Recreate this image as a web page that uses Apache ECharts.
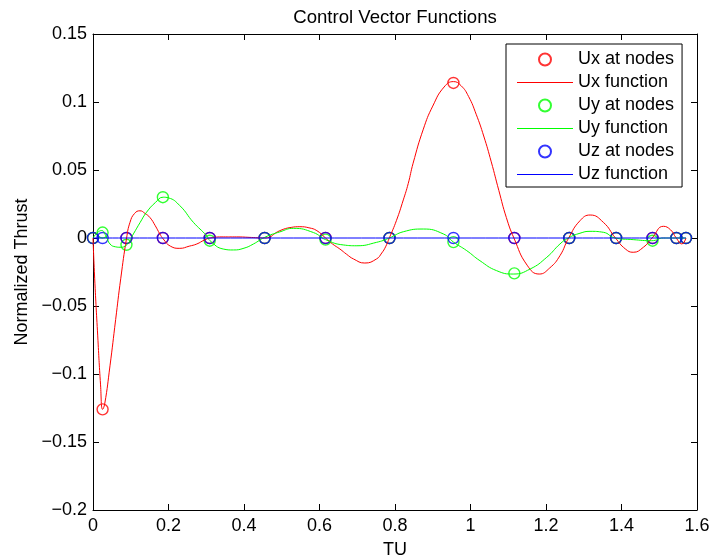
<!DOCTYPE html>
<html>
<head>
<meta charset="utf-8">
<script src="https://cdn.jsdelivr.net/npm/echarts@6/dist/echarts.min.js"></script>
<style>html,body{margin:0;padding:0;background:#fff}#c{width:710px;height:558px}</style>
</head>
<body>
<div id="c"></div>
<script>
// Node times (TU)
var nodeT = [0, 0.0254, 0.0886, 0.1851, 0.3092, 0.4547, 0.6160, 0.7854, 0.9548, 1.1161, 1.2616, 1.3857, 1.4822, 1.5454, 1.5708];
var uxNodes = [0, -0.126, 0, 0, 0, 0, 0, 0, 0.114, 0, 0, 0, 0, 0, 0];
var uyNodes = [0, 0.004, -0.005, 0.030, -0.002, 0, -0.0012, 0, -0.003, -0.026, 0, 0, -0.002, 0, 0];
var uzNodes = [0, 0, 0, 0, 0, 0, 0, 0, 0, 0, 0, 0, 0, 0, 0];

// Function curves
var uxCurveT = [0, 0.0045, 0.0125, 0.02, 0.0254, 0.031, 0.045, 0.06, 0.0734, 0.089, 0.098, 0.11, 0.1245, 0.138, 0.151, 0.165, 0.177, 0.186, 0.205, 0.23, 0.255, 0.275, 0.295, 0.31, 0.345, 0.38, 0.42, 0.455, 0.495, 0.525, 0.548, 0.572, 0.593, 0.616, 0.635, 0.654, 0.672, 0.69, 0.72, 0.751, 0.765, 0.775, 0.785, 0.804, 0.822, 0.835, 0.848, 0.875, 0.9, 0.93, 0.955, 0.975, 0.995, 1.015, 1.035, 1.055, 1.075, 1.095, 1.115, 1.15, 1.182, 1.21, 1.237, 1.26, 1.29, 1.317, 1.352, 1.384, 1.41, 1.431, 1.458, 1.481, 1.511, 1.53, 1.545, 1.56, 1.5708];
var uxCurveV = [0, -0.030, -0.072, -0.108, -0.126, -0.122, -0.094, -0.060, -0.030, 0, 0.0115, 0.018, 0.020, 0.018, 0.015, 0.009, 0.003, -0.0007, -0.006, -0.0076, -0.006, -0.0044, -0.0015, 0, 0.0008, 0.0008, 0.0004, 0, 0.0054, 0.0078, 0.0083, 0.0075, 0.0054, 0, -0.0045, -0.0081, -0.012, -0.0154, -0.0184, -0.0154, -0.011, -0.0065, 0, 0.013, 0.028, 0.040, 0.055, 0.080, 0.097, 0.111, 0.115, 0.112, 0.104, 0.091, 0.075, 0.056, 0.035, 0.015, 0, -0.020, -0.0265, -0.022, -0.013, 0, 0.0127, 0.0169, 0.0115, 0, -0.008, -0.0105, -0.0068, 0, 0.0086, 0.006, 0, -0.0044, 0];
var uyCurveT = [0, 0.012, 0.023, 0.035, 0.045, 0.06, 0.0715, 0.09, 0.107, 0.125, 0.142, 0.165, 0.186, 0.2, 0.23, 0.266, 0.301, 0.31, 0.345, 0.372, 0.4, 0.425, 0.455, 0.495, 0.531, 0.584, 0.616, 0.663, 0.699, 0.751, 0.785, 0.822, 0.875, 0.928, 0.955, 0.99, 1.025, 1.069, 1.113, 1.158, 1.202, 1.237, 1.259, 1.29, 1.3166, 1.352, 1.383, 1.431, 1.48, 1.511, 1.545, 1.5708];
var uyCurveV = [0, 0.004, 0.0055, 0.001, -0.0044, -0.0065, -0.0068, -0.0049, 0.003, 0.0115, 0.019, 0.026, 0.030, 0.0295, 0.0238, 0.0115, 0.0017, -0.002, -0.0081, -0.0088, -0.0075, -0.0044, 0.0005, 0.0045, 0.0071, 0.004, -0.0012, -0.0051, -0.0057, -0.0032, 0, 0.0046, 0.0066, 0.003, -0.003, -0.0093, -0.0167, -0.024, -0.0265, -0.0228, -0.0142, -0.0044, 0, 0.0035, 0.0049, 0.0042, 0, -0.0012, -0.002, 0, 0, 0];
var uzCurveT = [0, 1.5708];
var uzCurveV = [0, 0];

var xTicks = {min: 0, max: 1.6, interval: 0.2};
var yTicks = {min: -0.2, max: 0.15, interval: 0.05};
var legendNames = ['Ux at nodes', 'Ux function', 'Uy at nodes', 'Uy function', 'Uz at nodes', 'Uz function'];

function pairs(t, v) { return t.map(function (x, i) { return [x, v[i]]; }); }

var FONT = 'Liberation Sans';
var chart = echarts.init(document.getElementById('c'), null, {renderer: 'canvas'});

function nodeSeries(name, color, vals) {
  return {
    name: name, type: 'scatter', data: pairs(nodeT, vals),
    symbol: 'circle', symbolSize: 11,
    itemStyle: {color: 'rgba(255,255,255,0)', borderColor: color, borderWidth: 1.4},
    emphasis: {disabled: true}, silent: true
  };
}
function funcSeries(name, color, t, v) {
  return {
    name: name, type: 'line', data: pairs(t, v), smooth: 0.5,
    symbol: 'none', showSymbol: false,
    lineStyle: {color: color, width: 1}, itemStyle: {color: color},
    emphasis: {disabled: true}, silent: true
  };
}
var fmt = function (v) { return String(+v.toFixed(4)).replace('-', '\u2212'); };
var lineIcon = 'path://M0 0H56V1H0Z';

chart.setOption({
  animation: false,
  backgroundColor: '#fff',
  title: {
    text: 'Control Vector Functions', left: 390, top: 3, textAlign: 'center',
    textStyle: {fontFamily: FONT, fontSize: 18.6, fontWeight: 'normal', color: '#000'}
  },
  grid: {left: 93, right: 13, top: 34, bottom: 48, containLabel: false, outerBoundsMode: 'none'},
  legend: {
    orient: 'vertical', left: 506, top: 44,
    padding: [6.5, 8, 3.5, 11], itemGap: 5, itemWidth: 56, itemHeight: 12,
    backgroundColor: '#fff', borderColor: '#000', borderWidth: 1,
    textStyle: {fontFamily: FONT, fontSize: 18, color: '#000', lineHeight: 18},
    data: legendNames.map(function (n, i) {
      return i % 2 === 1 ? {name: n, icon: lineIcon} : {name: n};
    })
  },
  xAxis: [{
    type: 'value', min: xTicks.min, max: xTicks.max, interval: xTicks.interval,
    name: 'TU', nameLocation: 'middle', nameGap: 31,
    nameTextStyle: {fontFamily: FONT, fontSize: 18, color: '#000'},
    axisLine: {show: true, onZero: false, lineStyle: {color: '#000', width: 1}},
    axisTick: {show: true, inside: true, length: 6, lineStyle: {color: '#000'}},
    axisLabel: {fontFamily: FONT, fontSize: 18, color: '#000', margin: 7, formatter: fmt},
    splitLine: {show: false}
  }, {
    type: 'value', position: 'top', min: xTicks.min, max: xTicks.max, interval: xTicks.interval,
    axisLine: {show: true, onZero: false, lineStyle: {color: '#000', width: 1}},
    axisTick: {show: true, inside: true, length: 6, lineStyle: {color: '#000'}},
    axisLabel: {show: false}, splitLine: {show: false}
  }],
  yAxis: [{
    type: 'value', min: yTicks.min, max: yTicks.max, interval: yTicks.interval,
    name: 'Normalized Thrust', nameLocation: 'middle', nameGap: 62,
    nameTextStyle: {fontFamily: FONT, fontSize: 18, color: '#000'},
    axisLine: {show: true, onZero: false, lineStyle: {color: '#000', width: 1}},
    axisTick: {show: true, inside: true, length: 6, lineStyle: {color: '#000'}},
    axisLabel: {fontFamily: FONT, fontSize: 18, color: '#000', margin: 6, formatter: fmt},
    splitLine: {show: false}
  }, {
    type: 'value', position: 'right', min: yTicks.min, max: yTicks.max, interval: yTicks.interval,
    axisLine: {show: true, onZero: false, lineStyle: {color: '#000', width: 1}},
    axisTick: {show: true, inside: true, length: 6, lineStyle: {color: '#000'}},
    axisLabel: {show: false}, splitLine: {show: false}
  }],
  series: [
    nodeSeries('Ux at nodes', '#ff0000', uxNodes),
    funcSeries('Ux function', '#ff0000', uxCurveT, uxCurveV),
    nodeSeries('Uy at nodes', '#00ff00', uyNodes),
    funcSeries('Uy function', '#00ff00', uyCurveT, uyCurveV),
    nodeSeries('Uz at nodes', '#0000ff', uzNodes),
    funcSeries('Uz function', '#0000ff', uzCurveT, uzCurveV)
  ]
});
</script>
</body>
</html>
